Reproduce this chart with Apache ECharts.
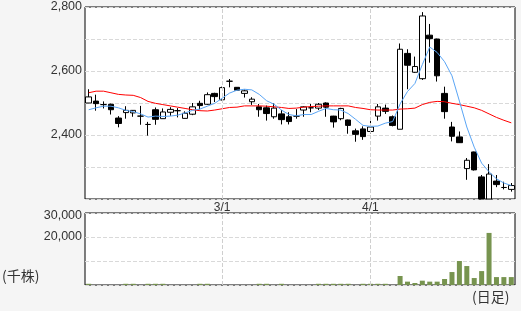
<!DOCTYPE html>
<html><head><meta charset="utf-8">
<script src="https://cdn.jsdelivr.net/npm/echarts@6/dist/echarts.min.js"></script>
<style>html,body{margin:0;padding:0;background:#f5f5f5;}#c{width:521px;height:311px;}</style>
</head><body><div id="c"></div>
<script>
const dates = ['2/2','2/5','2/6','2/7','2/8','2/9','2/13','2/14','2/15','2/16','2/19','2/20','2/21','2/22','2/26','2/27','2/28','2/29',
 '3/1','3/4','3/5','3/6','3/7','3/8','3/11','3/12','3/13','3/14','3/15','3/18','3/19','3/21','3/22','3/25','3/26','3/27','3/28','3/29',
 '4/1','4/2','4/3','4/4','4/5','4/8','4/9','4/10','4/11','4/12','4/15','4/16','4/17','4/18','4/19','4/22','4/23','4/24','4/25','4/26'];
const openP = [2500,2506,2495,2496,2453,2470,2469,2459,2433,2479, 2451,2471,2476,2452,2465,2499,2496,2530,2510,2568,
 2549,2530,2504,2488,2485,2457,2466,2457,2459,2478, 2485,2484,2500,2459,2451,2447,2413,2419,2411,2459,
 2484,2457,2418,2655,2596,2576,2712,2700,2530,2425, 2394,2295,2347,2269,2200,2256,2236,2230];
const closeP = [2519,2498,2495,2479,2436,2477,2477,2459,2433,2449, 2472,2480,2476,2468,2488,2492,2526,2520,2548,2568,
 2540,2538,2512,2479,2467,2484,2448,2442,2459,2488, 2485,2496,2487,2441,2483,2430,2402,2395,2425,2488,
 2474,2430,2668,2618,2614,2772,2701,2585,2473,2396, 2376,2321,2291,2200,2278,2245,2236,2242];
const lowP = [2500,2476,2483,2464,2424,2451,2457,2432,2398,2432, 2451,2460,2455,2452,2462,2480,2494,2503,2508,2549,
 2539,2517,2494,2457,2445,2451,2433,2433,2451,2457, 2471,2478,2457,2423,2446,2404,2379,2385,2405,2445,
 2466,2427,2418,2543,2594,2572,2626,2567,2451,2380, 2375,2260,2289,2200,2200,2237,2230,2223];
const highP = [2543,2526,2505,2498,2459,2490,2478,2491,2441,2486, 2483,2487,2484,2474,2500,2507,2533,2532,2551,2575,
 2550,2542,2518,2497,2492,2499,2478,2471,2481,2490, 2497,2500,2502,2460,2485,2448,2420,2427,2447,2497,
 2495,2461,2686,2668,2645,2784,2747,2701,2551,2441, 2411,2328,2348,2275,2309,2275,2254,2250];
const ma5 = [2479,2485,2490,2490,2485,2477,2473,2466,2456,2459, 2458,2459,2462,2469,2477,2481,2490,2499,2515,2531,
 2540,2543,2541,2527,2507,2496,2478,2464,2460,2464, 2464,2474,2483,2479,2478,2467,2449,2430,2427,2428,
 2437,2442,2497,2536,2561,2620,2675,2658,2629,2585, 2506,2425,2362,2312,2285,2263,2250,2242];
const ma25 = [2532,2537,2537,2532,2527,2525,2524,2517,2505,2499, 2495,2491,2487,2483,2479,2476,2475,2478,2482,2486,
 2487,2491,2491,2491,2490,2488,2486,2483,2484,2487, 2489,2490,2491,2491,2491,2491,2486,2483,2479,2478,
 2478,2478,2481,2482,2484,2495,2502,2505,2504,2499, 2495,2490,2485,2477,2466,2455,2446,2438];
const volume = [500,0,0,0,0,500,500,0,500,500, 500,0,0,0,0,500,500,0,0,0,
 0,0,0,500,500,0,500,0,0,0, 0,500,500,500,500,500,0,500,500,500,
 500,0,3750,1400,830,1800,1400,1400,2500,5400, 10000,7900,2900,5800,21700,3300,3300,3300];
const xTickLabels = ['3/1','4/1'];
const priceTickLabels = ['2,400','2,600','2,800'];
const volTickLabels = ['20,000','30,000'];

const fmt = v => v.toLocaleString('en-US');
const chart = echarts.init(document.getElementById('c'), null, {renderer:'canvas'});
const ohlc = dates.map((d,i)=>[openP[i], closeP[i], lowP[i], highP[i]]);
const vline = {
  silent:true, symbol:['none','none'], label:{show:false},
  lineStyle:{color:'#cfcfcf', type:'dashed', width:1},
  data: xTickLabels.map(t=>({xAxis:t}))
};
const textFont = 'Liberation Sans, Arial, sans-serif';
chart.setOption({
  backgroundColor:'#f5f5f5',
  animation:false,
  grid:[
    {left:85, top:7, width:430, height:192, show:true, backgroundColor:'#fff', borderColor:'#000', borderWidth:1},
    {left:85, top:213, width:430, height:72, show:true, backgroundColor:'#fff', borderColor:'#000', borderWidth:1}
  ],
  xAxis:[
    {type:'category', gridIndex:0, data:dates, boundaryGap:true,
     axisLine:{show:false}, axisTick:{show:false}, splitLine:{show:false},
     axisLabel:{show:true, interval:(i,v)=>xTickLabels.indexOf(v)>=0, margin:3, fontSize:12, color:'#333', fontFamily:textFont}},
    {type:'category', gridIndex:1, data:dates, boundaryGap:true,
     axisLine:{show:false}, axisTick:{show:false}, splitLine:{show:false}, axisLabel:{show:false}}
  ],
  yAxis:[
    {type:'value', gridIndex:0, min:2200, max:2800, interval:100,
     axisLine:{show:false}, axisTick:{show:false},
     splitLine:{show:true, lineStyle:{color:'#d9d9d9', type:'dashed'}},
     axisLabel:{margin:3, fontSize:12.5, color:'#333', fontFamily:textFont,
       formatter:v=>{const s=fmt(v); return priceTickLabels.indexOf(s)>=0?s:'';}}},
    {type:'value', gridIndex:1, min:0, max:30000, interval:10000,
     axisLine:{show:false}, axisTick:{show:false},
     splitLine:{show:true, lineStyle:{color:'#d9d9d9', type:'dashed'}},
     axisLabel:{margin:3, fontSize:12.5, color:'#333', fontFamily:textFont,
       formatter:v=>{const s=fmt(v); if(volTickLabels.indexOf(s)<0) return ''; return v===30000?'{t|'+s+'}':s;},
       rich:{t:{fontSize:12.5, color:'#333', fontFamily:textFont, padding:[5,0,0,0]}}}}
  ],
  series:[
    {type:'candlestick', xAxisIndex:0, yAxisIndex:0, data:ohlc, barWidth:6, clip:true,
     itemStyle:{color:'#fff', color0:'#000', borderColor:'#000', borderColor0:'#000', borderWidth:1},
     markLine:vline, z:3},
    {type:'line', xAxisIndex:0, yAxisIndex:0, data:ma25, showSymbol:false, symbol:'none',
     lineStyle:{color:'#ff0000', width:1}, z:4},
    {type:'line', xAxisIndex:0, yAxisIndex:0, data:ma5, showSymbol:false, symbol:'none',
     lineStyle:{color:'#5aa5f5', width:1}, z:5},
    {type:'bar', xAxisIndex:1, yAxisIndex:1, data:volume, barWidth:5,
     itemStyle:{color:'#77944f'}, markLine:vline}
  ],
  graphic:[
    {type:'text', left:2, top:269, style:{text:'(千株)', font:'14px "Noto Sans CJK JP"', fill:'#333'}},
    {type:'text', left:472, top:290, style:{text:'(日足)', font:'14px "Noto Sans CJK JP"', fill:'#333'}}
  ]
});
</script></body></html>
